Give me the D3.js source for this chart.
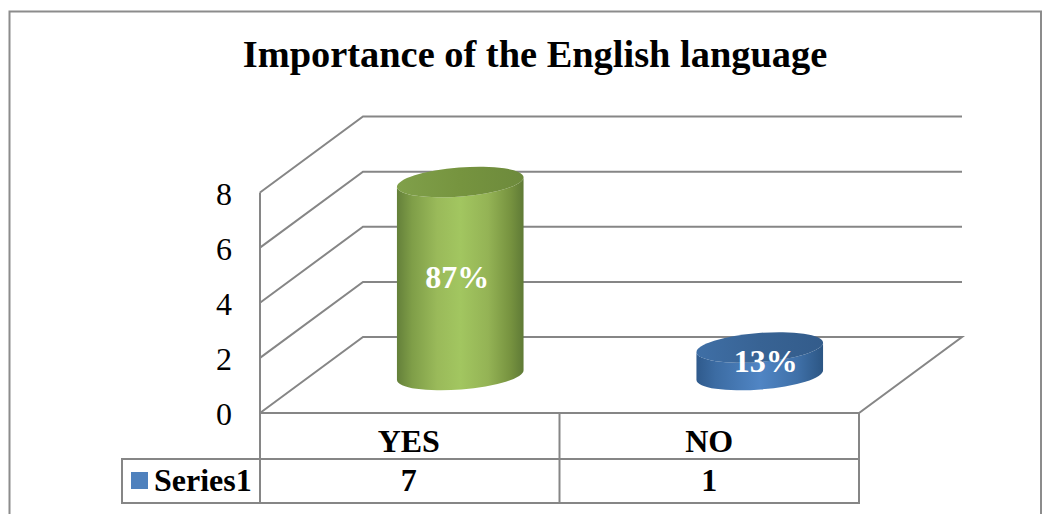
<!DOCTYPE html>
<html>
<head>
<meta charset="utf-8">
<script src="https://cdn.jsdelivr.net/npm/d3@7"></script>
<style>
  html, body { margin: 0; padding: 0; background: #fff; overflow: hidden; }
  svg { display: block; }
  text { font-family: "Liberation Serif", serif; }
</style>
</head>
<body>
<svg id="chart" width="1052" height="514"></svg>
<script>
const chartTitle = "Importance of the English language";
const categories = ["YES", "NO"];
const values = [7, 1];
const percentLabels = ["87%", "13%"];
const seriesName = "Series1";
const yTicks = [0, 2, 4, 6, 8];

const svg = d3.select("#chart");
const gridColor = "#868686";

// 3D box: front plane plus the offset to the back wall
const x = d3.scaleBand().domain(categories).range([260, 859]);
const y = d3.scaleLinear().domain([0, 8]).range([413, 192.5]);
const depth = { dx: 103, dy: -76 };
const tableRows = [413, 459, 503];
const tableLeft = 122;

// Outer chart frame
svg.append("path")
  .attr("d", "M9.5,520V11.5H1041V520")
  .attr("fill", "none").attr("stroke", "#8c8c8c").attr("stroke-width", 2);

svg.append("text")
  .attr("x", 535).attr("y", 67)
  .attr("text-anchor", "middle")
  .attr("font-size", 38.4).attr("font-weight", "bold")
  .text(chartTitle);

// Side wall and back wall gridlines
const grid = svg.append("g").attr("fill", "none").attr("stroke", gridColor).attr("stroke-width", 2);
grid.selectAll("path.wall").data(yTicks).join("path")
  .attr("class", "wall")
  .attr("d", d => {
    const x0 = x.range()[0], x1 = x.range()[1];
    const xb = x0 + depth.dx, yb = y(d) + depth.dy;
    return `M${x0},${y(d)}L${xb},${yb}H${x1 + depth.dx}` + (d === 0 ? `L${x1},${y(0)}H${x0}` : "");
  });
grid.append("path")
  .attr("d", `M${x.range()[0]},${y(8)}V${tableRows[2]}`);

// Y axis labels
svg.selectAll("text.tick").data(yTicks).join("text")
  .attr("class", "tick")
  .attr("x", 232).attr("y", d => y(d) + 12)
  .attr("text-anchor", "end")
  .attr("font-size", 32)
  .text(d => d);

// Colour ramps for the cylinder walls and caps
const defs = svg.append("defs");
function ramp(id, stops) {
  const g = defs.append("linearGradient").attr("id", id);
  stops.forEach(([o, c]) => g.append("stop").attr("offset", o).attr("stop-color", c));
}
ramp("green-side", [[0, "#64803a"], [0.12, "#7f9e48"], [0.32, "#9aba5a"], [0.5, "#a2c660"], [0.72, "#94b355"], [0.9, "#76923f"], [1, "#5f7a36"]]);
ramp("green-cap", [[0, "#80a04a"], [0.5, "#76943f"], [1, "#6d8a3c"]]);
ramp("blue-side", [[0, "#2f5a8c"], [0.15, "#3c6ca3"], [0.5, "#5085c4"], [0.8, "#3f70a8"], [1, "#2c5684"]]);
ramp("blue-cap", [[0, "#3f6fa6"], [0.5, "#386394"], [1, "#335c8b"]]);

// Cylinders stand halfway into the box depth
const rx = 63.5, ry = 14.5, tilt = 4.5;
const fills = [["green-side", "green-cap"], ["blue-side", "blue-cap"]];
const barCenter = i => x(categories[i]) + x.bandwidth() / 2 + depth.dx / 2 - 1;
const bars = svg.selectAll("g.bar").data(values).join("g").attr("class", "bar");

bars.each(function (v, i) {
  const g = d3.select(this);
  const cx = barCenter(i);
  const yBase = y(0) + depth.dy / 2;
  const yTop = y(v) + depth.dy / 2;
  const ex = rx * Math.cos(tilt * Math.PI / 180);
  const ey = rx * Math.sin(tilt * Math.PI / 180);
  g.append("path")
    .attr("d", `M${cx - ex},${yTop + ey}L${cx - ex},${yBase + ey}` +
               `A${rx},${ry} ${-tilt} 0 0 ${cx + ex},${yBase - ey}` +
               `L${cx + ex},${yTop - ey}` +
               `A${rx},${ry} ${-tilt} 0 1 ${cx - ex},${yTop + ey}Z`)
    .attr("fill", `url(#${fills[i][0]})`);
  g.append("ellipse")
    .attr("rx", rx).attr("ry", ry)
    .attr("transform", `translate(${cx},${yTop}) rotate(${-tilt})`)
    .attr("fill", `url(#${fills[i][1]})`);
});

// Percentage labels on the cylinders
const labelY = [288, 372];
svg.selectAll("text.pct").data(percentLabels).join("text")
  .attr("class", "pct")
  .attr("x", (d, i) => barCenter(i) - 3 + (i ? 9 : 0))
  .attr("y", (d, i) => labelY[i])
  .attr("text-anchor", "middle")
  .attr("font-size", 32).attr("font-weight", "bold")
  .attr("fill", "#fff")
  .text(d => d);

// Data table under the plot
const table = svg.append("g").attr("fill", "none").attr("stroke", gridColor).attr("stroke-width", 2);
table.append("path").attr("d",
  `M${x.range()[1]},${tableRows[0]}V${tableRows[2]}H${tableLeft}V${tableRows[1]}H${x.range()[1]}`);
table.append("path").attr("d", `M${x("NO")},${tableRows[0]}V${tableRows[2]}`);

const cellText = (sel, row, acc) => sel
  .attr("x", d => x(d) + x.bandwidth() / 2 - (d === "YES" ? 1 : 0))
  .attr("y", row)
  .attr("text-anchor", "middle")
  .attr("font-size", 32).attr("font-weight", "bold")
  .text(acc);

svg.selectAll("text.cat").data(categories).join("text").attr("class", "cat")
  .call(cellText, 452, d => d);
svg.selectAll("text.val").data(categories).join("text").attr("class", "val")
  .call(cellText, 491, (d, i) => values[i]);

// Legend key and series name
svg.append("rect").attr("x", 131).attr("y", 472).attr("width", 17).attr("height", 17).attr("fill", "#4f81bd");
svg.append("text").attr("x", 154).attr("y", 491)
  .attr("font-size", 32).attr("font-weight", "bold").text(seriesName);
</script>
</body>
</html>
